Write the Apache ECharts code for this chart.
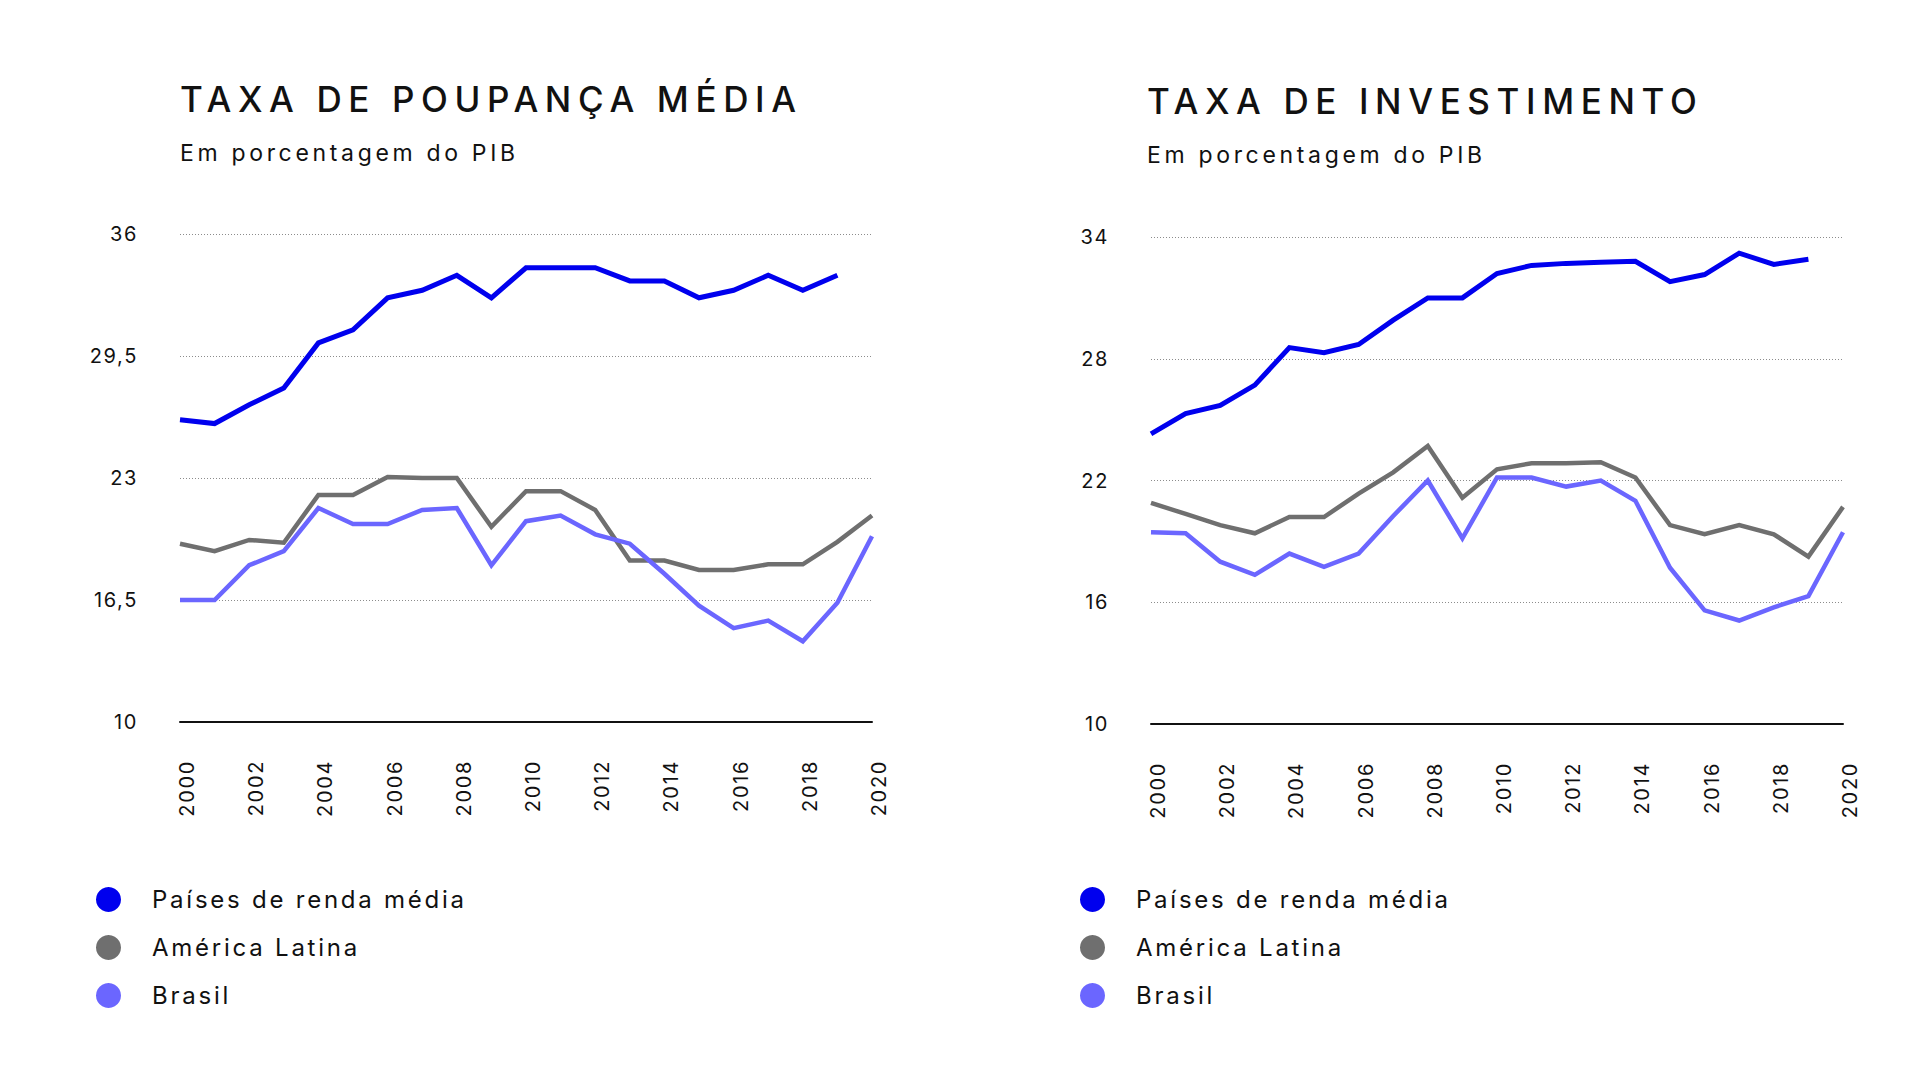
<!DOCTYPE html>
<html>
<head>
<meta charset="utf-8">
<title>Taxa de poupança e investimento</title>
<script src="https://cdn.jsdelivr.net/npm/echarts@6/dist/echarts.min.js"></script>
<style>
  html, body { margin: 0; padding: 0; background: #fff; }
  #chart { width: 1920px; height: 1080px; }
</style>
<style id="tracking"></style>
</head>
<body>
<div id="chart"></div>
<script>
const years = ['2000', '2001', '2002', '2003', '2004', '2005', '2006', '2007', '2008', '2009', '2010',
  '2011', '2012', '2013', '2014', '2015', '2016', '2017', '2018', '2019', '2020']
const seriesNames = ['Países de renda média', 'América Latina', 'Brasil']

// taxa de poupança média (% do PIB)
const poupancaRendaMedia = [26.1, 25.9, 26.9, 27.8, 30.2, 30.9, 32.6, 33.0, 33.8, 32.6, 34.2,
  34.2, 34.2, 33.5, 33.5, 32.6, 33.0, 33.8, 33.0, 33.8, null]
const poupancaAmericaLatina = [19.5, 19.1, 19.7, 19.55, 22.1, 22.1, 23.05, 23.0, 23.0, 20.4, 22.3,
  22.3, 21.3, 18.6, 18.6, 18.1, 18.1, 18.4, 18.4, 19.6, 21.0]
const poupancaBrasil = [16.5, 16.5, 18.35, 19.1, 21.4, 20.55, 20.55, 21.3, 21.4, 18.35, 20.7,
  21.0, 20.0, 19.5, 17.9, 16.2, 15.0, 15.4, 14.3, 16.35, 19.9]
const poupancaTicks = [10, 16.5, 23, 29.5, 36]

// taxa de investimento (% do PIB)
const investimentoRendaMedia = [24.3, 25.3, 25.7, 26.7, 28.55, 28.3, 28.7, 29.9, 31.0, 31.0, 32.2,
  32.6, 32.7, 32.75, 32.8, 31.8, 32.15, 33.2, 32.65, 32.9, null]
const investimentoAmericaLatina = [20.9, 20.35, 19.8, 19.4, 20.2, 20.2, 21.35, 22.4, 23.7, 21.15, 22.55,
  22.85, 22.85, 22.9, 22.15, 19.8, 19.35, 19.8, 19.35, 18.25, 20.7]
const investimentoBrasil = [19.45, 19.4, 18.0, 17.35, 18.4, 17.75, 18.4, 20.25, 22.0, 19.15, 22.15,
  22.15, 21.7, 22.0, 21.0, 17.7, 15.6, 15.1, 15.75, 16.3, 19.45]
const investimentoTicks = [10, 16, 22, 28, 34]

const FONT = 'Inter, "Noto Sans", sans-serif'
const colors = ['#0000ee', '#6f6f6f', '#6b66ff']
const widths = [5, 4.5, 4.5]

// canvas can't space letters, so the svg text gets css letter-spacing
// worked out to hit the widths measured on the reference
const measure = document.createElement('canvas').getContext('2d')
const spacing = (text, size, weight, target) => {
  measure.font = weight + ' ' + size + 'px ' + FONT
  const w = measure.measureText(text).width
  return Math.max(0, (target - w) / (text.length - 1))
}
const tracking = [
  [35, spacing('TAXA DE POUPANÇA MÉDIA', 35, 500, 616)],
  [23, spacing('Em porcentagem do PIB', 23, 400, 335)],
  [24, spacing('Países de renda média', 24, 400, 312)],
  [20, spacing('2000', 20, 400, 55)]
]
document.getElementById('tracking').textContent = tracking
  .map(([s, ls]) => '#chart text[style*="' + s + 'px"]{letter-spacing:' + ls.toFixed(2) + 'px}')
  .join('\n')

const yAxis = (ticks, idx) => ({
  type: 'value',
  gridIndex: idx,
  min: ticks[0],
  max: ticks[ticks.length - 1],
  interval: ticks[1] - ticks[0],
  axisLine: { show: false },
  axisTick: { show: false },
  axisLabel: {
    color: '#111', fontSize: 20, fontFamily: FONT, margin: 42,
    formatter: v => String(v).replace('.', ',')
  },
  splitLine: { lineStyle: { type: [1, 2], color: '#8c8c8c', width: 1 } }
})

const xAxis = idx => ({
  type: 'category',
  gridIndex: idx,
  data: years,
  boundaryGap: false,
  axisLine: { lineStyle: { color: '#111', width: 2 } },
  axisTick: { show: false },
  axisLabel: {
    interval: 1, rotate: 90, margin: 38, color: '#111', fontSize: 20, fontFamily: FONT,
    verticalAlign: 'top', lineHeight: 14
  },
  splitLine: { show: false }
})

const line = (k, data, idx) => ({
  name: seriesNames[k],
  type: 'line',
  data: data,
  xAxisIndex: idx,
  yAxisIndex: idx,
  symbol: 'none',
  showSymbol: false,
  color: colors[k],
  lineStyle: { width: widths[k], color: colors[k], join: 'miter' },
  itemStyle: { color: colors[k] },
  silent: true
})

const legend = left => ({
  data: seriesNames,
  orient: 'vertical',
  left: left,
  top: 887,
  padding: 0,
  icon: 'circle',
  itemWidth: 25,
  itemHeight: 25,
  itemGap: 23,
  selectedMode: false,
  itemStyle: { borderWidth: 0 },
  textStyle: { fontSize: 24, color: '#111', fontFamily: FONT, padding: [0, 0, 0, 26] }
})

const title = (text, left, top, size, weight) => ({
  text: text, left: left, top: top, padding: 0,
  textStyle: { fontSize: size, fontWeight: weight, color: '#111', fontFamily: FONT }
})

const chart = echarts.init(document.getElementById('chart'), null, { renderer: 'svg' })

chart.setOption({
  animation: false,
  backgroundColor: '#fff',
  title: [
    title('TAXA DE POUPANÇA MÉDIA', 180, 81, 35, 500),
    title('Em porcentagem do PIB', 180, 141, 23, 400),
    title('TAXA DE INVESTIMENTO', 1147, 83, 35, 500),
    title('Em porcentagem do PIB', 1147, 143, 23, 400)
  ],
  legend: [legend(96), legend(1080)],
  grid: [
    { left: 180, right: 1048, top: 234, bottom: 358 },
    { left: 1151, right: 77, top: 237, bottom: 356 }
  ],
  xAxis: [xAxis(0), xAxis(1)],
  yAxis: [yAxis(poupancaTicks, 0), yAxis(investimentoTicks, 1)],
  series: [
    line(0, poupancaRendaMedia, 0),
    line(1, poupancaAmericaLatina, 0),
    line(2, poupancaBrasil, 0),
    line(0, investimentoRendaMedia, 1),
    line(1, investimentoAmericaLatina, 1),
    line(2, investimentoBrasil, 1)
  ]
})
</script>
</body>
</html>
